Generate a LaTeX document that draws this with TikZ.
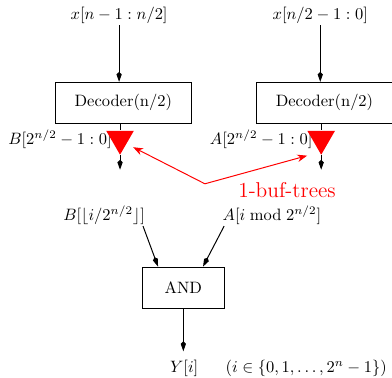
\documentclass[tikz,border=0pt]{standalone}
\usepackage{amsmath}
\usepackage{xcolor}
\usepackage{tikz}
\usetikzlibrary{arrows.meta, positioning, shapes}
\tikzset{
    decbox/.style={
        rectangle,
        draw,
        minimum width=2.92cm,
        minimum height=0.875cm,
        align=center
    },
    gatebox/.style={
        rectangle,
        draw,
        minimum width=1.73cm,
        minimum height=0.875cm
    },
    buf/.style={
        regular polygon,
        regular polygon sides=3,
        shape border rotate=180,
        fill=red,
        inner sep=0pt,
        minimum size=0.68cm
    },
    sig/.style={
        -{Kite[length=6pt, width=3.2pt]},
        semithick
    },
    hint/.style={
        -{Stealth[length=6pt, width=4.5pt]},
        draw=red,
        semithick
    }
}

\begin{document}
\begin{tikzpicture}[
        lbl/.style={inner sep=1pt}
    ]
        \useasboundingbox (0,0) rectangle (8.36,8.06);
        % two half decoders, one per input half
        \node[lbl] (xl) at (2.54,7.74) {$x[n-1:n/2]$};
        \node[lbl] (xr) at (6.83,7.74) {$x[n/2-1:0]$};
        \node[decbox] (dl) at (2.63,5.87) {Decoder(n/2)};
        \node[decbox] (dr) at (6.92,5.87) {Decoder(n/2)};
        \node[lbl] (bw) at (1.28,5.08) {$B[2^{n/2}-1:0]$};
        \node[lbl] (aw) at (5.57,5.08) {$A[2^{n/2}-1:0]$};
        \draw[sig] (xl.south) -- (xl.south |- dl.north);
        \draw[sig] (xr.south) -- (xr.south |- dr.north);
        \node[buf] (bl) at (2.56,5.10) {};
        \node[buf] (br) at (6.85,5.10) {};
        \coordinate (bo) at (2.56,4.44);
        \coordinate (ao) at (6.85,4.44);
        \draw (dl.south -| bl) -- (bl.north);
        \draw (dr.south -| br) -- (br.north);
        \draw[sig] (bl.corner 1) -- (bo);
        \draw[sig] (br.corner 1) -- (ao);
        % callout for the buffer trees
        \coordinate (hub) at (4.37,4.14);
        \node[text=red, font=\fontsize{13}{15}\selectfont] (bufs) at (6.12,4.01) {1-buf-trees};
        \draw[hint] (hub) -- ([xshift=0.28cm, yshift=-0.18cm]bl.center);
        \draw[hint] (hub) -- ([xshift=-0.30cm, yshift=-0.36cm]br.center);
        % one output line
        \node[lbl] (bf) at (2.22,3.48) {$B[\lfloor i/2^{n/2}\rfloor]$};
        \node[lbl] (am) at (5.80,3.48) {$A[i \bmod 2^{n/2}]$};
        \node[gatebox] (and) at (3.91,1.93) {AND};
        \node[lbl] (yi) at (3.93,0.21) {$Y[i]$};
        \node[lbl] (rng) at (6.53,0.21) {$(i\in\{0,1,\dots,2^n-1\})$};
        \draw[sig] ([xshift=0.83cm]bf.south) -- ([xshift=-0.54cm]and.north);
        \draw[sig] ([xshift=-1.02cm]am.south) -- ([xshift=0.42cm]and.north);
        \draw[sig, shorten >=4pt] (and.south) -- (and.south |- yi.north);
    \end{tikzpicture}
\end{document}
